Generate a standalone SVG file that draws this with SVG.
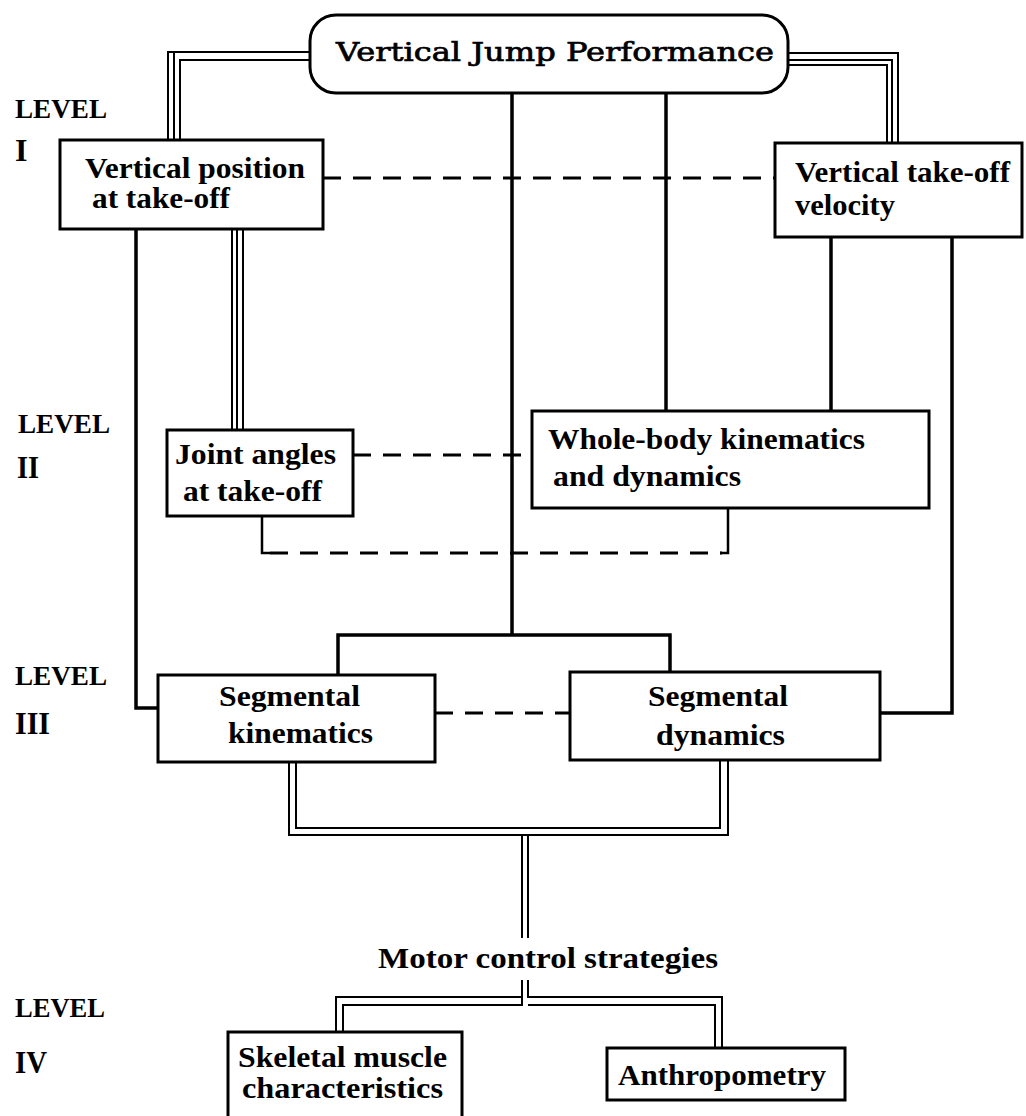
<svg xmlns="http://www.w3.org/2000/svg" width="1026" height="1116" viewBox="0 0 1026 1116">
<style>
.box{fill:#fff;stroke:#000;stroke-width:3}
.t{font-family:"Liberation Serif","Times New Roman",serif;font-weight:bold;font-size:30px;fill:#000}
.title{font-family:"DejaVu Serif","Liberation Serif",serif;font-size:26px;fill:#000;stroke:#000;stroke-width:0.7}
.lv{font-family:"Liberation Serif","Times New Roman",serif;font-weight:bold;font-size:27px;fill:#000}
.rn{font-family:"Liberation Serif","Times New Roman",serif;font-weight:bold;font-size:32px;fill:#000}
.s{fill:none;stroke:#000;stroke-width:3.5}
.d{fill:none;stroke:#000;stroke-width:2}
.dash{fill:none;stroke:#000;stroke-width:3;stroke-dasharray:18 12}
</style>
<rect width="1026" height="1116" fill="#fff"/>
<g id="connectors">
<path class="d" d="M310,52 H168 V140"/>
<path class="d" d="M310,60 H180 V140"/>
<path class="d" d="M174,52 V140"/>
<path class="d" d="M788,53 H898 V143"/>
<path class="d" d="M788,60 H892 V143"/>
<path class="d" d="M788,65 H887 V143"/>
<path class="s" d="M512,93 V635"/>
<path class="s" d="M338,675 V635 H670 V672"/>
<path class="s" d="M666,93 V411"/>
<path class="s" d="M831,237 V411"/>
<path class="s" d="M952,237 V713 H880"/>
<path class="s" d="M136,229 V708 H158"/>
<path class="d" d="M232,229 V430"/>
<path class="d" d="M237,229 V430"/>
<path class="d" d="M243,229 V430"/>
<path class="dash" d="M323,178 H775"/>
<path class="dash" d="M353,455 H532"/>
<path class="dash" d="M435,713 H570"/>
<path class="s" style="stroke-width:2.5" d="M262,516 V553 H270"/>
<path class="dash" d="M270,553 H722"/>
<path class="s" style="stroke-width:2.5" d="M720,553 H728 V508"/>
<path class="d" d="M289,762 V835 H728 V760"/>
<path class="d" d="M296,762 V828 H720 V760"/>
<path class="d" d="M522,835 V938"/>
<path class="d" d="M528,835 V938"/>
<path class="d" d="M522,980 V1005 H343 V1032"/>
<path class="d" d="M522,997 H336 V1032"/>
<path class="d" d="M528,980 V997 H722 V1048"/>
<path class="d" d="M528,1005 H715 V1048"/>
</g>
<g id="levels">
<text class="lv" x="15" y="118" textLength="92" lengthAdjust="spacingAndGlyphs">LEVEL</text>
<text class="rn" x="15" y="161">I</text>
<text class="lv" x="18" y="433" textLength="92" lengthAdjust="spacingAndGlyphs">LEVEL</text>
<text class="rn" x="17" y="478" textLength="22" lengthAdjust="spacingAndGlyphs">II</text>
<text class="lv" x="15" y="685" textLength="92" lengthAdjust="spacingAndGlyphs">LEVEL</text>
<text class="rn" x="15" y="734" textLength="35" lengthAdjust="spacingAndGlyphs">III</text>
<text class="lv" x="15" y="1017" textLength="90" lengthAdjust="spacingAndGlyphs">LEVEL</text>
<text class="rn" x="15" y="1073" textLength="32" lengthAdjust="spacingAndGlyphs">IV</text>
</g>
<g id="vjp">
<rect class="box" x="310" y="15" width="478" height="78" rx="26"/>
<text class="title" x="336" y="61" textLength="438" lengthAdjust="spacingAndGlyphs">Vertical Jump Performance</text>
</g>
<g id="vpos">
<rect class="box" x="60" y="140" width="263" height="89"/>
<text class="t" x="85" y="178" textLength="220" lengthAdjust="spacingAndGlyphs">Vertical position</text>
<text class="t" x="92" y="208" textLength="138" lengthAdjust="spacingAndGlyphs">at take-off</text>
</g>
<g id="vvel">
<rect class="box" x="775" y="143" width="247" height="94"/>
<text class="t" x="795" y="182" textLength="215" lengthAdjust="spacingAndGlyphs">Vertical take-off</text>
<text class="t" x="795" y="215" textLength="100" lengthAdjust="spacingAndGlyphs">velocity</text>
</g>
<g id="joint">
<rect class="box" x="167" y="430" width="186" height="86"/>
<text class="t" x="175" y="464" textLength="161" lengthAdjust="spacingAndGlyphs">Joint angles</text>
<text class="t" x="183" y="501" textLength="139" lengthAdjust="spacingAndGlyphs">at take-off</text>
</g>
<g id="whole">
<rect class="box" x="532" y="411" width="397" height="97"/>
<text class="t" x="548" y="449" textLength="317" lengthAdjust="spacingAndGlyphs">Whole-body kinematics</text>
<text class="t" x="553" y="486" textLength="188" lengthAdjust="spacingAndGlyphs">and dynamics</text>
</g>
<g id="segkin">
<rect class="box" x="158" y="675" width="277" height="87"/>
<text class="t" x="219" y="706" textLength="141" lengthAdjust="spacingAndGlyphs">Segmental</text>
<text class="t" x="228" y="743" textLength="145" lengthAdjust="spacingAndGlyphs">kinematics</text>
</g>
<g id="segdyn">
<rect class="box" x="570" y="672" width="310" height="88"/>
<text class="t" x="648" y="706" textLength="140" lengthAdjust="spacingAndGlyphs">Segmental</text>
<text class="t" x="656" y="745" textLength="129" lengthAdjust="spacingAndGlyphs">dynamics</text>
</g>
<g id="motor">
<text class="t" x="378" y="968" textLength="340" lengthAdjust="spacingAndGlyphs">Motor control strategies</text>
</g>
<g id="skeletal">
<rect class="box" x="228" y="1032" width="234" height="90"/>
<text class="t" x="238" y="1067" textLength="209" lengthAdjust="spacingAndGlyphs">Skeletal muscle</text>
<text class="t" x="242" y="1098" textLength="201" lengthAdjust="spacingAndGlyphs">characteristics</text>
</g>
<g id="anthro">
<rect class="box" x="607" y="1048" width="238" height="52"/>
<text class="t" x="618" y="1085" textLength="208" lengthAdjust="spacingAndGlyphs">Anthropometry</text>
</g>
</svg>
